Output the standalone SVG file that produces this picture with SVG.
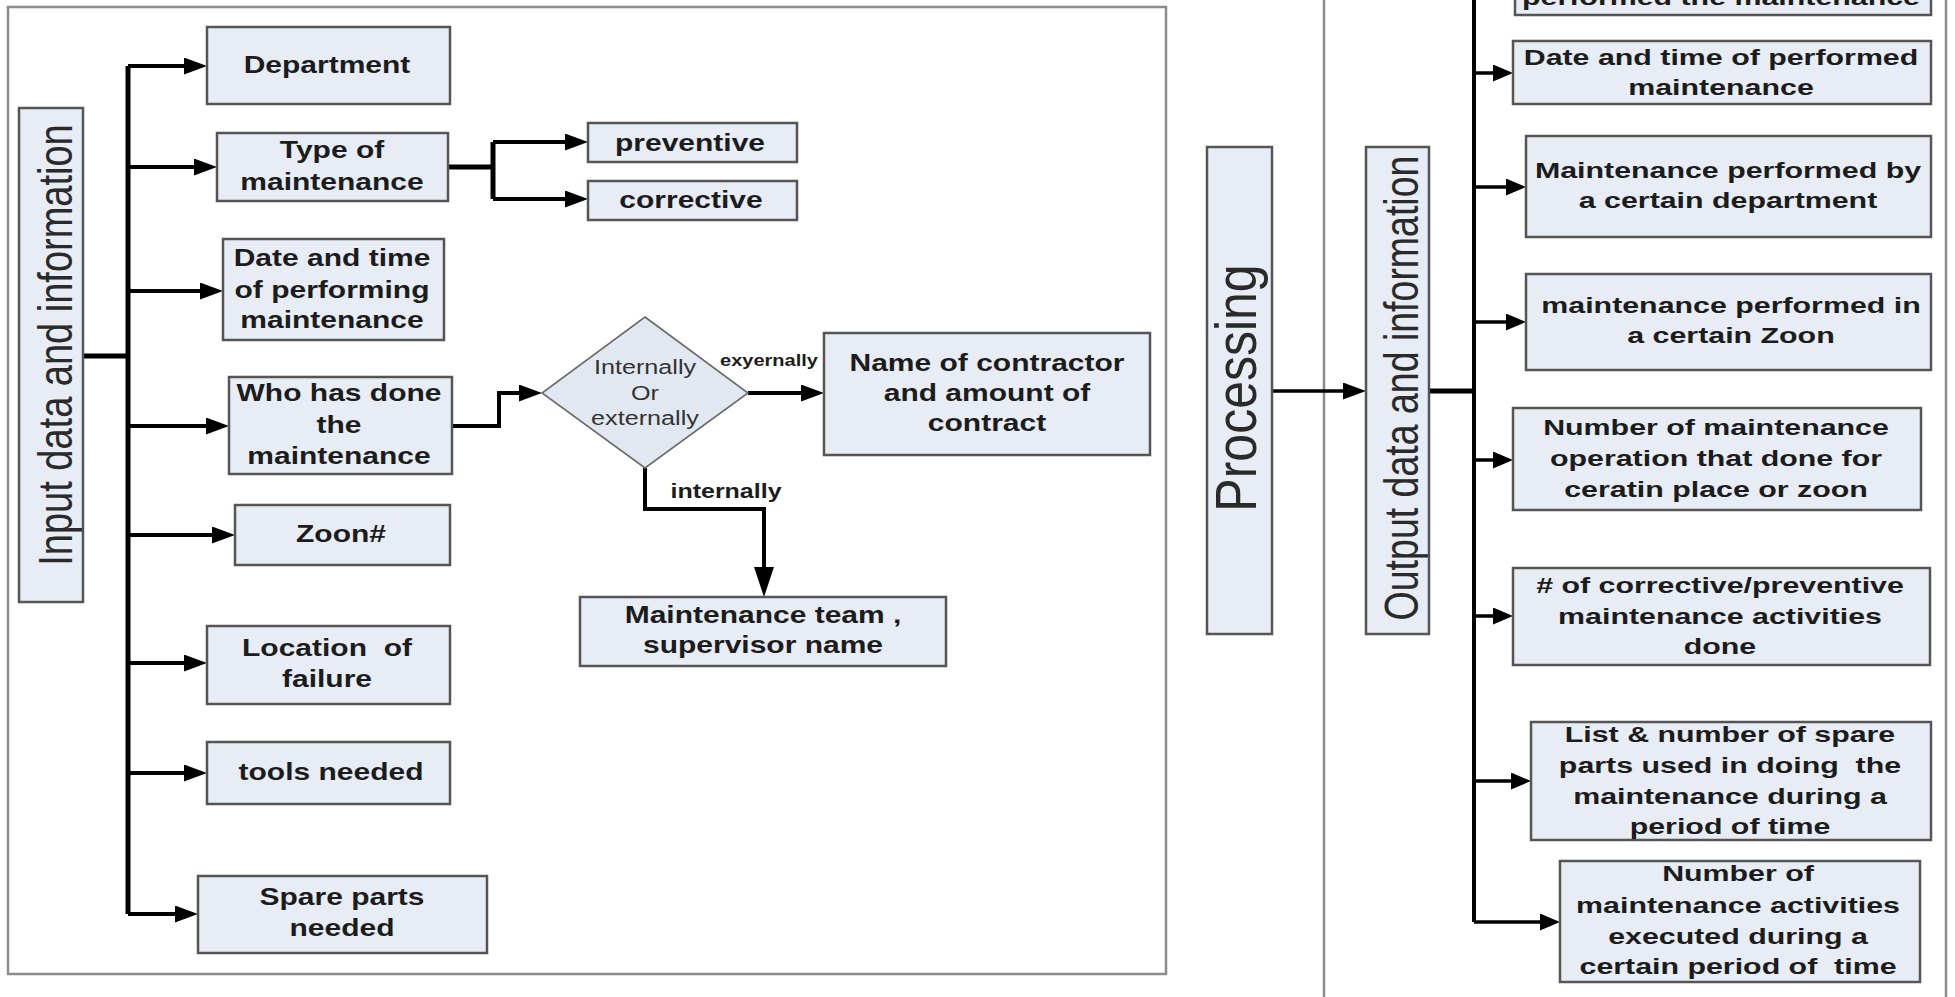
<svg xmlns="http://www.w3.org/2000/svg" width="1955" height="997" viewBox="0 0 1955 997">
<style>
.panel{fill:#ffffff;stroke:#8c8c8c;stroke-width:2.5}
.box{fill:#e7ecf5;stroke:#555555;stroke-width:2.5}
.dia{fill:#e2e8f2;stroke:#6a6a6a;stroke-width:1.6}
.tl{font-family:"Liberation Sans",Arial,sans-serif;font-weight:bold;font-size:24px;fill:#1c1c1c;text-anchor:middle}
.tr{font-family:"Liberation Sans",Arial,sans-serif;font-weight:bold;font-size:22px;fill:#1c1c1c;text-anchor:middle}
.td{font-family:"Liberation Sans",Arial,sans-serif;font-size:21px;fill:#333333;text-anchor:middle}
.lbl{font-family:"Liberation Sans",Arial,sans-serif;font-weight:bold;fill:#1c1c1c;text-anchor:middle}
.rot{font-family:"Liberation Sans",Arial,sans-serif;fill:#2a2a2a;text-anchor:middle}
.c{fill:none;stroke:#000000;stroke-width:4}
.trunk{fill:none;stroke:#000000;stroke-width:5}
.cr{fill:none;stroke:#000000;stroke-width:3.5}
</style>
<defs>
<marker id="aL" markerUnits="userSpaceOnUse" markerWidth="23" markerHeight="17" refX="13" refY="8.5" orient="auto"><path d="M0,0 L23,8.5 L0,17 z" fill="#000"/></marker>
<marker id="aR" markerUnits="userSpaceOnUse" markerWidth="20" markerHeight="17" refX="10" refY="8.5" orient="auto"><path d="M0,0 L20,8.5 L0,17 z" fill="#000"/></marker>
<marker id="aD" markerUnits="userSpaceOnUse" markerWidth="30" markerHeight="20" refX="20" refY="10" orient="auto"><path d="M0,0 L30,10 L0,20 z" fill="#000"/></marker>
</defs>
<rect width="1955" height="997" fill="#ffffff"/>
<g id="panels">
<rect class="panel" x="8" y="7" width="1158" height="967"/>
<rect class="panel" x="1324" y="-20" width="622" height="1040"/>
</g>
<g id="connectors">
<path class="trunk" d="M128,66 V914"/>
<path class="trunk" d="M83,356 H128"/>
<path class="c" d="M128,66 H197" marker-end="url(#aL)"/>
<path class="c" d="M128,167 H207" marker-end="url(#aL)"/>
<path class="c" d="M128,291 H213" marker-end="url(#aL)"/>
<path class="c" d="M128,426 H219" marker-end="url(#aL)"/>
<path class="c" d="M128,535 H225" marker-end="url(#aL)"/>
<path class="c" d="M128,663 H197" marker-end="url(#aL)"/>
<path class="c" d="M128,773 H197" marker-end="url(#aL)"/>
<path class="c" d="M128,914 H188" marker-end="url(#aL)"/>
<path class="trunk" d="M448,167 H493"/>
<path class="trunk" d="M493,142 V199"/>
<path class="c" d="M493,142 H578" marker-end="url(#aL)"/>
<path class="c" d="M493,199 H578" marker-end="url(#aL)"/>
<path class="c" d="M452,426 H499 V393 H532" marker-end="url(#aL)"/>
<path class="c" d="M748,393 H814" marker-end="url(#aL)"/>
<path class="c" d="M645,468 V509 H764 V587" marker-end="url(#aD)"/>
<path class="cr" d="M1272,391 H1356" marker-end="url(#aL)"/>
<path class="trunk" d="M1429,391 H1474"/>
<path class="c" d="M1474,-5 V922"/>
<path class="cr" d="M1474,73 H1503" marker-end="url(#aR)"/>
<path class="cr" d="M1474,187 H1516" marker-end="url(#aR)"/>
<path class="cr" d="M1474,322 H1516" marker-end="url(#aR)"/>
<path class="cr" d="M1474,460 H1503" marker-end="url(#aR)"/>
<path class="cr" d="M1474,616 H1503" marker-end="url(#aR)"/>
<path class="cr" d="M1474,781 H1521" marker-end="url(#aR)"/>
<path class="cr" d="M1474,922 H1550" marker-end="url(#aR)"/>
<g transform="translate(769,0) scale(1.25,1)"><text class="lbl" x="0" y="366" font-size="16">exyernally</text></g>
<g transform="translate(726,0) scale(1.25,1)"><text class="lbl" x="0" y="498" font-size="20">internally</text></g>
</g>
<g id="input">
<rect class="box" x="19" y="108" width="64" height="494"/>
<text class="rot" font-size="38" transform="translate(72,345) scale(1.25,1) rotate(-90)" x="0" y="0">Input data and information</text>
</g>
<g id="department">
<rect class="box" x="207" y="27" width="243" height="77"/>
<text class="tl" transform="translate(327,0) scale(1.25,1)"><tspan x="0" y="73">Department</tspan></text>
</g>
<g id="type">
<rect class="box" x="217" y="133" width="231" height="68"/>
<text class="tl" transform="translate(332,0) scale(1.25,1)"><tspan x="0" y="158">Type of</tspan><tspan x="0" y="190">maintenance</tspan></text>
</g>
<g id="preventive">
<rect class="box" x="588" y="123" width="209" height="39"/>
<text class="tl" transform="translate(690,0) scale(1.25,1)"><tspan x="0" y="151">preventive</tspan></text>
</g>
<g id="corrective">
<rect class="box" x="588" y="181" width="209" height="39"/>
<text class="tl" transform="translate(691,0) scale(1.25,1)"><tspan x="0" y="208">corrective</tspan></text>
</g>
<g id="datetime">
<rect class="box" x="223" y="239" width="221" height="101"/>
<text class="tl" transform="translate(332,0) scale(1.25,1)"><tspan x="0" y="266">Date and time</tspan><tspan x="0" y="298">of performing</tspan><tspan x="0" y="328">maintenance</tspan></text>
</g>
<g id="who">
<rect class="box" x="229" y="377" width="223" height="97"/>
<text class="tl" transform="translate(339,0) scale(1.25,1)"><tspan x="0" y="401">Who has done</tspan><tspan x="0" y="433">the</tspan><tspan x="0" y="464">maintenance</tspan></text>
</g>
<g id="zoon">
<rect class="box" x="235" y="505" width="215" height="60"/>
<text class="tl" transform="translate(341,0) scale(1.25,1)"><tspan x="0" y="542">Zoon#</tspan></text>
</g>
<g id="location">
<rect class="box" x="207" y="626" width="243" height="78"/>
<text class="tl" xml:space="preserve" transform="translate(327,0) scale(1.25,1)"><tspan x="0" y="656">Location  of</tspan><tspan x="0" y="687">failure</tspan></text>
</g>
<g id="tools">
<rect class="box" x="207" y="742" width="243" height="62"/>
<text class="tl" transform="translate(331,0) scale(1.25,1)"><tspan x="0" y="780">tools needed</tspan></text>
</g>
<g id="spare">
<rect class="box" x="198" y="876" width="289" height="77"/>
<text class="tl" transform="translate(342,0) scale(1.25,1)"><tspan x="0" y="905">Spare parts</tspan><tspan x="0" y="936">needed</tspan></text>
</g>
<g id="decision">
<polygon class="dia" points="645,317 748,393 645,468 542,393"/>
<text class="td" transform="translate(645,0) scale(1.2,1)"><tspan x="0" y="374">Internally</tspan><tspan x="0" y="400">Or</tspan><tspan x="0" y="425">externally</tspan></text>
</g>
<g id="contractor">
<rect class="box" x="824" y="333" width="326" height="122"/>
<text class="tl" transform="translate(987,0) scale(1.25,1)"><tspan x="0" y="371">Name of contractor</tspan><tspan x="0" y="401">and amount of</tspan><tspan x="0" y="431">contract</tspan></text>
</g>
<g id="team">
<rect class="box" x="580" y="597" width="366" height="69"/>
<text class="tl" transform="translate(763,0) scale(1.25,1)"><tspan x="0" y="623">Maintenance team ,</tspan><tspan x="0" y="653">supervisor name</tspan></text>
</g>
<g id="processing">
<rect class="box" x="1207" y="147" width="65" height="487"/>
<text class="rot" font-size="50" transform="translate(1256,388) scale(1.15,1) rotate(-90)" x="0" y="0">Processing</text>
</g>
<g id="output">
<rect class="box" x="1366" y="147" width="63" height="487"/>
<text class="rot" font-size="37.5" transform="translate(1418,388) scale(1.28,1) rotate(-90)" x="0" y="0">Output data and information</text>
</g>
<g id="out-performedby">
<rect class="box" x="1515" y="-60" width="416" height="75"/>
<text class="tr" transform="translate(1721,0) scale(1.38,1)"><tspan x="0" y="5">performed the maintenance</tspan></text>
</g>
<g id="out-datetime">
<rect class="box" x="1513" y="41" width="418" height="63"/>
<text class="tr" transform="translate(1721,0) scale(1.38,1)"><tspan x="0" y="65">Date and time of performed</tspan><tspan x="0" y="95">maintenance</tspan></text>
</g>
<g id="out-department">
<rect class="box" x="1526" y="136" width="405" height="101"/>
<text class="tr" transform="translate(1728,0) scale(1.38,1)"><tspan x="0" y="178">Maintenance performed by</tspan><tspan x="0" y="208">a certain department</tspan></text>
</g>
<g id="out-zoon">
<rect class="box" x="1526" y="274" width="405" height="96"/>
<text class="tr" transform="translate(1731,0) scale(1.38,1)"><tspan x="0" y="313">maintenance performed in</tspan><tspan x="0" y="343">a certain Zoon</tspan></text>
</g>
<g id="out-number-place">
<rect class="box" x="1513" y="408" width="408" height="102"/>
<text class="tr" transform="translate(1716,0) scale(1.38,1)"><tspan x="0" y="435">Number of maintenance</tspan><tspan x="0" y="466">operation that done for</tspan><tspan x="0" y="497">ceratin place or zoon</tspan></text>
</g>
<g id="out-corrective">
<rect class="box" x="1513" y="568" width="417" height="97"/>
<text class="tr" transform="translate(1720,0) scale(1.38,1)"><tspan x="0" y="593"># of corrective/preventive</tspan><tspan x="0" y="624">maintenance activities</tspan><tspan x="0" y="654">done</tspan></text>
</g>
<g id="out-spare">
<rect class="box" x="1531" y="722" width="400" height="118"/>
<text class="tr" xml:space="preserve" transform="translate(1730,0) scale(1.38,1)"><tspan x="0" y="742">List &amp; number of spare</tspan><tspan x="0" y="773">parts used in doing  the</tspan><tspan x="0" y="804">maintenance during a</tspan><tspan x="0" y="834">period of time</tspan></text>
</g>
<g id="out-activities">
<rect class="box" x="1560" y="861" width="360" height="121"/>
<text class="tr" xml:space="preserve" transform="translate(1738,0) scale(1.38,1)"><tspan x="0" y="881">Number of</tspan><tspan x="0" y="913">maintenance activities</tspan><tspan x="0" y="944">executed during a</tspan><tspan x="0" y="974">certain period of  time</tspan></text>
</g>
</svg>
